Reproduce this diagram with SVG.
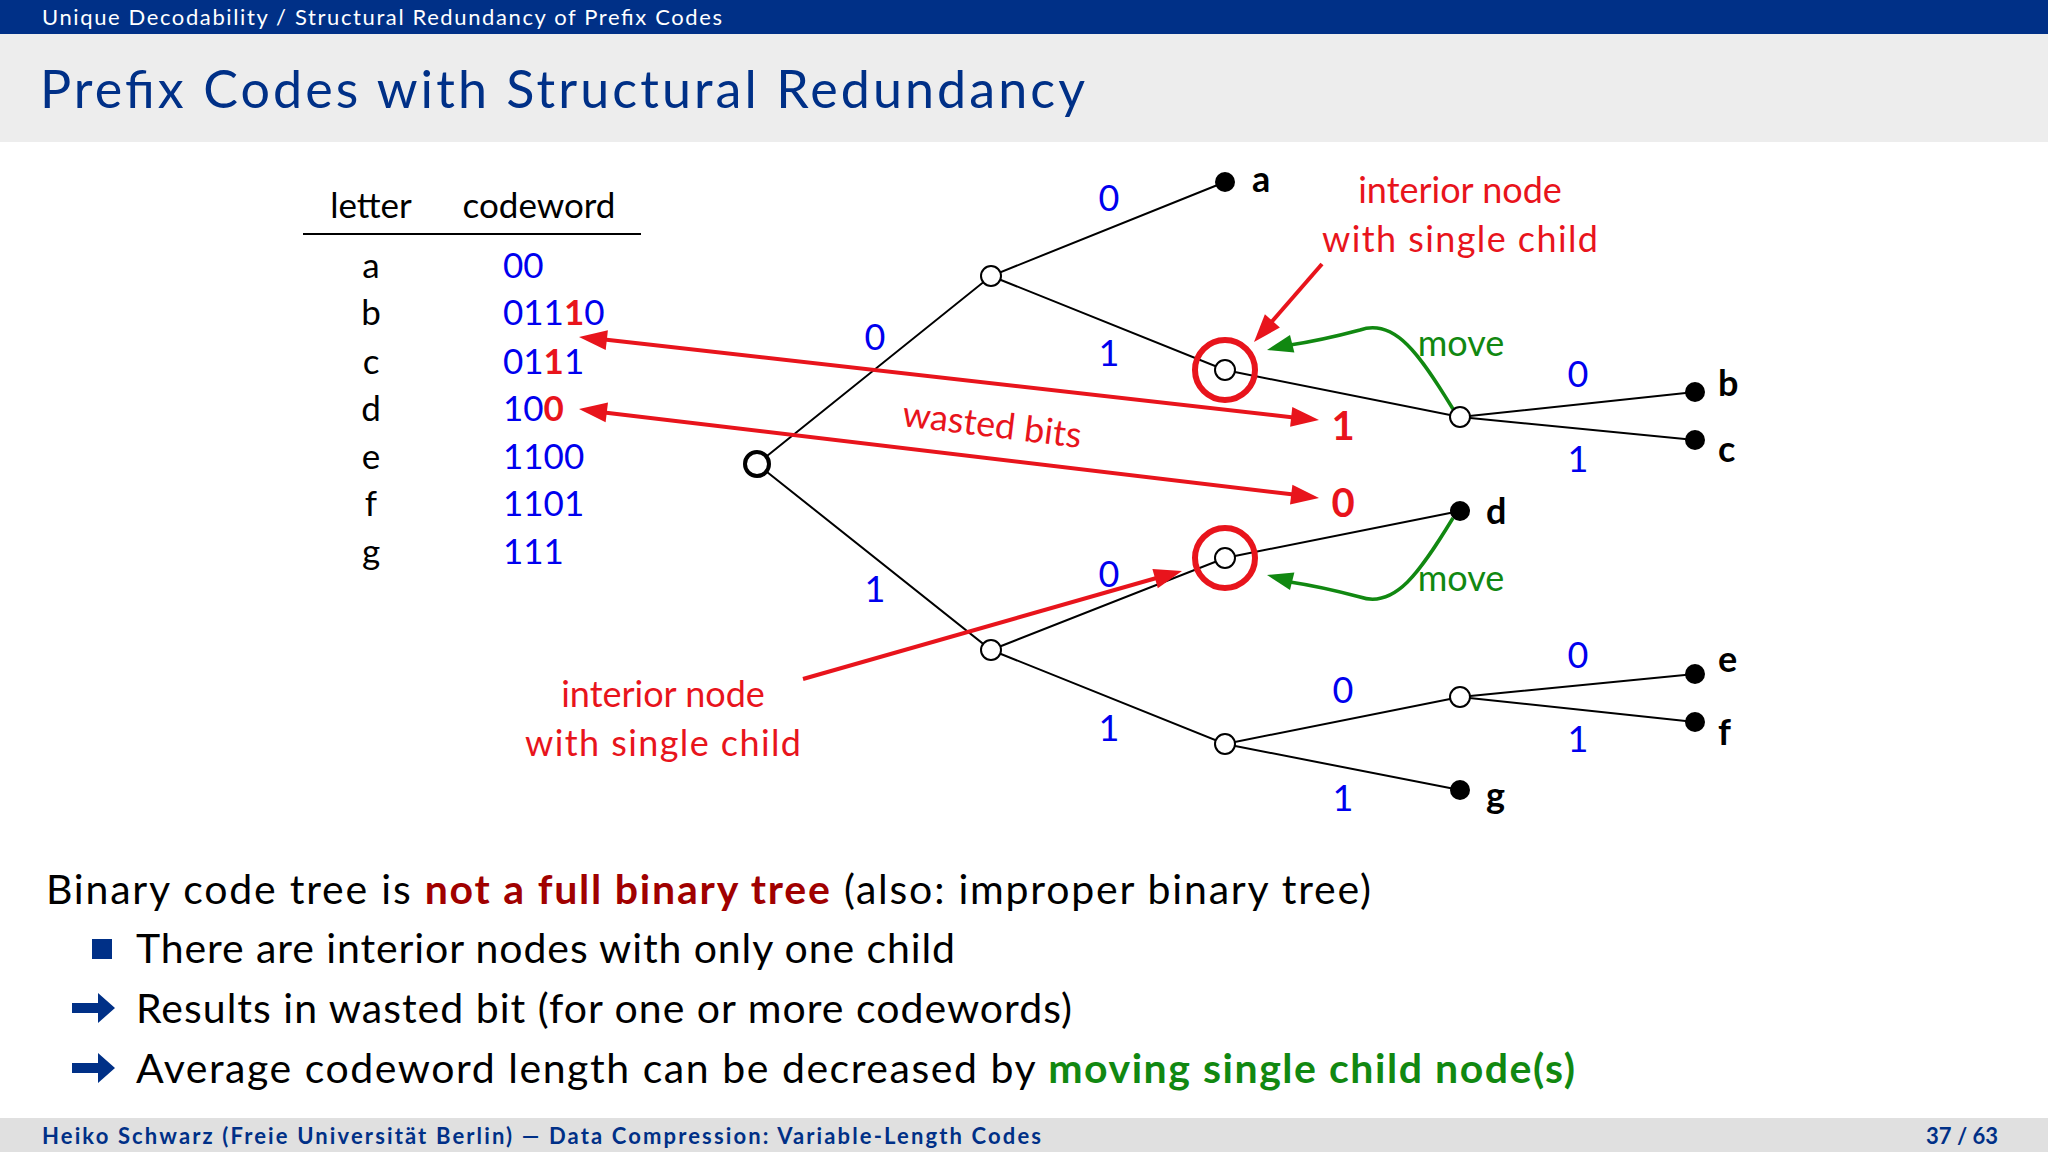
<svg xmlns="http://www.w3.org/2000/svg" width="2048" height="1152" viewBox="0 0 2048 1152">
<defs>
<style>
text{font-family:Lato,"DejaVu Sans",sans-serif}
.e{stroke:#000;stroke-width:2;fill:none}
.o{fill:#fff;stroke:#000;stroke-width:2}
.l{fill:#000}
.bl{fill:#0000ee;font-size:36px;text-anchor:middle}
.lt{font-size:36px;font-weight:bold;fill:#000}
.rd{fill:#e8141c;font-size:36px;text-anchor:middle}
.gr{fill:#118811;font-size:36px;text-anchor:middle}
.tb{font-size:35px;fill:#000}
.cw{font-size:35px;fill:#0000ee}
.bd{font-size:41px;fill:#000}
.rh{fill:#e8141c}
.gh{fill:#118811}
</style>
</defs>
<rect width="2048" height="1152" fill="#fff"/>
<rect width="2048" height="34" fill="#003087"/>
<text x="42" y="25" font-size="22" fill="#fff" textLength="680">Unique Decodability / Structural Redundancy of Prefix Codes</text>
<rect y="34" width="2048" height="108" fill="#ededed"/>
<text x="40" y="108" font-size="52" fill="#003087" textLength="1045">Prefix Codes with Structural Redundancy</text>
<rect y="1118" width="2048" height="34" fill="#e0e0e0"/>
<text x="42" y="1144" font-size="22" font-weight="bold" fill="#003087" textLength="999">Heiko Schwarz (Freie Universität Berlin) — Data Compression:  Variable-Length Codes</text>
<text x="1998" y="1144" font-size="22" font-weight="bold" fill="#003087" text-anchor="end">37 / 63</text>

<g id="table">
<text class="tb" x="371" y="218" text-anchor="middle">letter</text>
<text class="tb" x="539" y="218" text-anchor="middle">codeword</text>
<line x1="303" y1="234" x2="641" y2="234" stroke="#000" stroke-width="2"/>
<g class="tb" text-anchor="middle">
<text x="371" y="278">a</text><text x="371" y="325">b</text><text x="371" y="374">c</text><text x="371" y="421">d</text><text x="371" y="469">e</text><text x="371" y="516">f</text><text x="371" y="564">g</text>
</g>
<text class="cw" x="503" y="278">00</text>
<text class="cw" x="503" y="325">011<tspan fill="#e8141c" font-weight="bold">1</tspan>0</text>
<text class="cw" x="503" y="374">01<tspan fill="#e8141c" font-weight="bold">1</tspan>1</text>
<text class="cw" x="503" y="421">10<tspan fill="#e8141c" font-weight="bold">0</tspan></text>
<text class="cw" x="503" y="469">1100</text>
<text class="cw" x="503" y="516">1101</text>
<text class="cw" x="503" y="564">111</text>
</g>

<g id="connectors">
<path class="e" d="M757,464L991,276L1225,182M991,276L1225,370L1460,417L1695,392M1460,417L1695,440M757,464L991,650L1225,558L1460,511M991,650L1225,744L1460,697L1695,674M1460,697L1695,722M1225,744L1460,790"/>
<g stroke="#e8141c" stroke-width="4" fill="none">
<line x1="600" y1="339" x2="1298" y2="418"/>
<line x1="600" y1="412" x2="1298" y2="495"/>
<line x1="1322" y1="264" x2="1268" y2="326"/>
<line x1="803" y1="679" x2="1160" y2="577"/>
</g>
<polygon class="rh" points="1319,420 1290.1,426.8 1292.3,407"/>
<polygon class="rh" points="579,337 605.7,350 607.9,330.2"/>
<polygon class="rh" points="1319,498 1290,504.6 1292.4,484.8"/>
<polygon class="rh" points="579,409 605.6,422.2 608,402.4"/>
<polygon class="rh" points="1254,342 1264.9,314.3 1279.9,327.5"/>
<polygon class="rh" points="1182,571 1157.8,588.3 1152.4,569.1"/>
<g stroke="#118811" stroke-width="3.5" fill="none">
<path d="M1453,409C1420,355 1395,318 1360,330C1330,338 1310,342 1290,345"/>
<path d="M1453,518C1420,572 1395,609 1360,597C1330,589 1310,585 1290,582"/>
</g>
<polygon class="gh" points="1267,350 1290,335.1 1294.4,352.5"/>
<polygon class="gh" points="1267,575 1290,589.9 1294.4,572.5"/>
</g>

<g id="nodes">
<circle cx="757" cy="464" r="12" fill="#fff" stroke="#000" stroke-width="4"/>
<circle class="o" cx="991" cy="276" r="10"/>
<circle class="o" cx="1225" cy="370" r="10"/>
<circle class="o" cx="1460" cy="417" r="10"/>
<circle class="o" cx="991" cy="650" r="10"/>
<circle class="o" cx="1225" cy="558" r="10"/>
<circle class="o" cx="1225" cy="744" r="10"/>
<circle class="o" cx="1460" cy="697" r="10"/>
<circle class="l" cx="1225" cy="182" r="10"/>
<circle class="l" cx="1695" cy="392" r="10"/>
<circle class="l" cx="1695" cy="440" r="10"/>
<circle class="l" cx="1460" cy="511" r="10"/>
<circle class="l" cx="1695" cy="674" r="10"/>
<circle class="l" cx="1695" cy="722" r="10"/>
<circle class="l" cx="1460" cy="790" r="10"/>
<circle cx="1225" cy="370" r="30" fill="none" stroke="#e8141c" stroke-width="6"/>
<circle cx="1225" cy="558" r="30" fill="none" stroke="#e8141c" stroke-width="6"/>
<text class="lt" x="1252" y="192">a</text>
<text class="lt" x="1718" y="396">b</text>
<text class="lt" x="1718" y="462">c</text>
<text class="lt" x="1486" y="524">d</text>
<text class="lt" x="1718" y="672">e</text>
<text class="lt" x="1718" y="745">f</text>
<text class="lt" x="1486" y="808">g</text>
</g>

<g id="labels">
<text class="bl" x="1109" y="211">0</text>
<text class="bl" x="1109" y="366">1</text>
<text class="bl" x="875" y="350">0</text>
<text class="bl" x="875" y="602">1</text>
<text class="bl" x="1109" y="587">0</text>
<text class="bl" x="1109" y="741">1</text>
<text class="bl" x="1578" y="387">0</text>
<text class="bl" x="1578" y="472">1</text>
<text class="bl" x="1343" y="703">0</text>
<text class="bl" x="1343" y="811">1</text>
<text class="bl" x="1578" y="668">0</text>
<text class="bl" x="1578" y="752">1</text>
<text class="rd" x="1460" y="203">interior node</text>
<text class="rd" x="1460" y="252" textLength="276">with single child</text>
<text class="rd" x="663" y="707">interior node</text>
<text class="rd" x="663" y="756" textLength="276">with single child</text>
<text class="rd" x="992" y="437" transform="rotate(7 992 425)">wasted bits</text>
<text x="1343" y="440" font-size="40" font-weight="bold" fill="#e8141c" text-anchor="middle">1</text>
<text x="1343" y="517" font-size="40" font-weight="bold" fill="#e8141c" text-anchor="middle">0</text>
<text class="gr" x="1461" y="356">move</text>
<text class="gr" x="1461" y="591">move</text>
</g>

<g id="body">
<text class="bd" x="46" y="904" textLength="1325">Binary code tree is <tspan fill="#a00000" font-weight="bold">not a full binary tree</tspan> (also: improper binary tree)</text>
<rect x="92" y="939" width="20" height="20" fill="#003087"/>
<text class="bd" x="136" y="963" textLength="819">There are interior nodes with only one child</text>
<path d="M72,1003h26v-10l17,15l-17,15v-10h-26z" fill="#003087"/>
<text class="bd" x="136" y="1023" textLength="936">Results in wasted bit (for one or more codewords)</text>
<path d="M72,1063h26v-10l17,15l-17,15v-10h-26z" fill="#003087"/>
<text class="bd" x="136" y="1083" textLength="1439">Average codeword length can be decreased by <tspan fill="#118811" font-weight="bold">moving single child node(s)</tspan></text>
</g>
</svg>
